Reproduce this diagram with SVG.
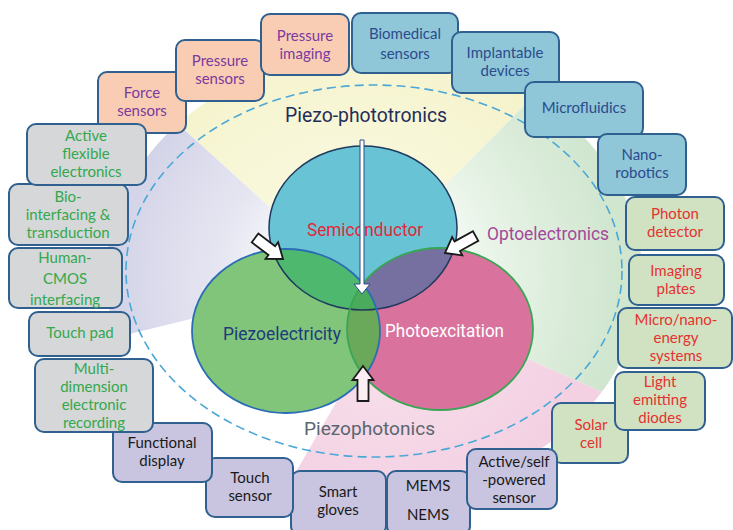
<svg xmlns="http://www.w3.org/2000/svg" width="733" height="530" viewBox="0 0 733 530">
<defs>
<style>
.box{stroke:#2f6090;stroke-width:2}
.peach{fill:#f9cdb3}.blue{fill:#8fc6d8}.green{fill:#d0e2c2}.lav{fill:#c9c4df}.gray{fill:#d5d7d9}
.t{font-family:Lato,"Liberation Sans",sans-serif;font-size:15px;text-anchor:middle}
.tp{fill:#7a3a9e}.tb{fill:#2b4c8c}.tg{fill:#34a84c}.tr{fill:#e5322f}.tk{fill:#1a1a1a}
.big{font-family:Roboto,"Liberation Sans",sans-serif;text-anchor:start}
.blk{fill:#ffffff;stroke:#1a1a1a;stroke-width:1.8;stroke-linejoin:miter}
</style>
<radialGradient id="gY" gradientUnits="userSpaceOnUse" cx="350" cy="280" r="260"><stop offset="0" stop-color="#fbfbe8"/><stop offset="1" stop-color="#f5f3cb"/></radialGradient>
<radialGradient id="gL" gradientUnits="userSpaceOnUse" cx="350" cy="280" r="240"><stop offset="0.2" stop-color="#ffffff"/><stop offset="0.55" stop-color="#e6e6f2"/><stop offset="1" stop-color="#d3d3e8"/></radialGradient>
<radialGradient id="gG" gradientUnits="userSpaceOnUse" cx="350" cy="280" r="270"><stop offset="0.25" stop-color="#ffffff"/><stop offset="0.6" stop-color="#e5f2e4"/><stop offset="1" stop-color="#d0e6cf"/></radialGradient>
<radialGradient id="gP" gradientUnits="userSpaceOnUse" cx="380" cy="300" r="220"><stop offset="0" stop-color="#f9e4ee"/><stop offset="1" stop-color="#f3d0e2"/></radialGradient>
<clipPath id="fan"><ellipse cx="374" cy="275" rx="268" ry="222"/></clipPath>
<clipPath id="cSemi"><ellipse cx="363" cy="228" rx="94" ry="82"/></clipPath>
<clipPath id="cPhoto"><ellipse cx="440" cy="329" rx="93" ry="81"/></clipPath>
<path id="blockArrow" d="M0,0 L-14,-10.5 L-14,-5.5 L-35,-5.5 L-35,5.5 L-14,5.5 L-14,10.5 Z"/>
</defs>

<rect width="733" height="530" fill="#ffffff"/>

<g id="background" clip-path="url(#fan)">
<polygon points="350,280 -69,-100 730,-100" fill="url(#gY)"/>
<polygon points="350,280 -400,-400 -400,464" fill="url(#gL)"/>
<polygon points="350,280 1000,-370 1000,569" fill="url(#gG)"/>
<polygon points="395,300 1000,569 1000,800 107,800" fill="url(#gP)"/>
</g>

<ellipse id="dashed-ring" cx="374" cy="271" rx="248" ry="186" fill="none" stroke="#4aa8d8" stroke-width="1.6" stroke-dasharray="9 5"/>

<g id="venn">
<g id="semiconductor">
<ellipse cx="363" cy="228" rx="94" ry="82" fill="#68c4d4"/>
</g>
<g id="piezoelectricity">
<ellipse cx="286" cy="331" rx="94" ry="82" fill="#80c57a"/>
</g>
<g id="photoexcitation">
<ellipse cx="440" cy="329" rx="93" ry="81" fill="#d9739e"/>
</g>
<g clip-path="url(#cSemi)"><ellipse cx="286" cy="331" rx="94" ry="82" fill="#4db86e"/><ellipse cx="440" cy="329" rx="93" ry="81" fill="#75709f"/></g>
<g clip-path="url(#cPhoto)"><ellipse cx="286" cy="331" rx="94" ry="82" fill="#6aa85a"/></g>
<g clip-path="url(#cSemi)"><g clip-path="url(#cPhoto)"><ellipse cx="286" cy="331" rx="94" ry="82" fill="#4aab5c"/></g></g>
<ellipse cx="363" cy="228" rx="94" ry="82" fill="none" stroke="#1f3a5e" stroke-width="1.5"/>
<ellipse cx="440" cy="329" rx="93" ry="81" fill="none" stroke="#3aa655" stroke-width="1.8"/>
<ellipse cx="286" cy="331" rx="94" ry="82" fill="none" stroke="#2a6db5" stroke-width="1.8"/>
<text class="big" x="307" y="236" font-size="18" textLength="116" lengthAdjust="spacingAndGlyphs" fill="#e0283c">Semiconductor</text>
<text class="big" x="223" y="340" font-size="18" textLength="118" lengthAdjust="spacingAndGlyphs" fill="#1f3a7a">Piezoelectricity</text>
<text class="big" x="385" y="337" font-size="18" textLength="119" lengthAdjust="spacingAndGlyphs" fill="#ffffff">Photoexcitation</text>
</g>

<text class="big" x="285" y="122" font-size="20" textLength="162" lengthAdjust="spacingAndGlyphs" fill="#1f2d5a">Piezo-phototronics</text>
<text class="big" x="487" y="240" font-size="18" textLength="122" lengthAdjust="spacingAndGlyphs" fill="#a4489a">Optoelectronics</text>
<text class="big" x="304" y="435" font-size="19" textLength="131" lengthAdjust="spacingAndGlyphs" fill="#5a6670">Piezophotonics</text>

<g id="connectors">
<path d="M360,140 L364,140 L364,284 L370,284 L362,294 L354,284 L360,284 Z" fill="#ffffff" stroke="#2b4c8a" stroke-width="1"/>
<use href="#blockArrow" class="blk" transform="translate(283,259) rotate(37)"/>
<use href="#blockArrow" class="blk" transform="translate(445,253) rotate(151)"/>
<use href="#blockArrow" class="blk" transform="translate(363,366) rotate(-90)" style="fill:#fdeef3"/>
</g>

<g id="force-sensors"><rect class="box peach" x="98" y="72" width="88" height="61" rx="9"/><text class="t tp" x="142" y="98">Force</text><text class="t tp" x="142" y="116">sensors</text></g>
<g id="pressure-sensors"><rect class="box peach" x="176" y="40" width="88" height="61" rx="9"/><text class="t tp" x="220" y="66">Pressure</text><text class="t tp" x="220" y="84">sensors</text></g>
<g id="pressure-imaging"><rect class="box peach" x="261" y="14" width="88" height="61" rx="9"/><text class="t tp" x="305" y="41">Pressure</text><text class="t tp" x="305" y="59">imaging</text></g>

<g id="biomedical-sensors"><rect class="box blue" x="352" y="13" width="106" height="60" rx="9"/><text class="t tb" x="405" y="39">Biomedical</text><text class="t tb" x="405" y="59">sensors</text></g>
<g id="implantable-devices"><rect class="box blue" x="452" y="32" width="107" height="61" rx="9"/><text class="t tb" x="505" y="58">Implantable</text><text class="t tb" x="505" y="76">devices</text></g>
<g id="microfluidics"><rect class="box blue" x="525" y="82" width="118" height="55" rx="9"/><text class="t tb" x="584" y="113">Microfluidics</text></g>
<g id="nano-robotics"><rect class="box blue" x="598" y="134" width="88" height="61" rx="9"/><text class="t tb" x="642" y="160">Nano-</text><text class="t tb" x="642" y="178">robotics</text></g>

<g id="photon-detector"><rect class="box green" x="626" y="197" width="98" height="53" rx="9"/><text class="t tr" x="675" y="219">Photon</text><text class="t tr" x="675" y="237">detector</text></g>
<g id="imaging-plates"><rect class="box green" x="629" y="255" width="95" height="50" rx="9"/><text class="t tr" x="676" y="276">Imaging</text><text class="t tr" x="676" y="294">plates</text></g>
<g id="micro-nano-energy"><rect class="box green" x="618" y="308" width="114" height="60" rx="9"/><text class="t tr" x="676" y="325">Micro/nano-</text><text class="t tr" x="676" y="343">energy</text><text class="t tr" x="676" y="361">systems</text></g>
<g id="solar-cell"><rect class="box green" x="552" y="403" width="76" height="60" rx="9"/><text class="t tr" x="591" y="430">Solar</text><text class="t tr" x="591" y="448">cell</text></g>
<g id="light-emitting-diodes"><rect class="box green" x="615" y="372" width="90" height="58" rx="9"/><text class="t tr" x="660" y="387">Light</text><text class="t tr" x="660" y="405">emitting</text><text class="t tr" x="660" y="423">diodes</text></g>

<g id="mems-nems"><rect class="box lav" x="387" y="471" width="83" height="64" rx="9"/><text class="t tk" x="428" y="491">MEMS</text><text class="t tk" x="428" y="520">NEMS</text></g>
<g id="active-self-powered-sensor"><rect class="box lav" x="467" y="449" width="90" height="60" rx="9"/><text class="t tk" x="514" y="467">Active/self</text><text class="t tk" x="514" y="485">-powered</text><text class="t tk" x="514" y="503">sensor</text></g>
<g id="smart-gloves"><rect class="box lav" x="291" y="471" width="95" height="64" rx="9"/><text class="t tk" x="338" y="497">Smart</text><text class="t tk" x="338" y="515">gloves</text></g>
<g id="touch-sensor"><rect class="box lav" x="206" y="458" width="87" height="59" rx="9"/><text class="t tk" x="250" y="483">Touch</text><text class="t tk" x="250" y="501">sensor</text></g>
<g id="functional-display"><rect class="box lav" x="113" y="423" width="99" height="59" rx="9"/><text class="t tk" x="162" y="448">Functional</text><text class="t tk" x="162" y="466">display</text></g>

<g id="multi-dimension-recording"><rect class="box gray" x="35" y="359" width="118" height="73" rx="9"/><text class="t tg" x="94" y="374">Multi-</text><text class="t tg" x="94" y="392">dimension</text><text class="t tg" x="94" y="410">electronic</text><text class="t tg" x="94" y="428">recording</text></g>
<g id="touch-pad"><rect class="box gray" x="29" y="312" width="101" height="44" rx="9"/><text class="t tg" x="80" y="338">Touch pad</text></g>
<g id="human-cmos-interfacing"><rect class="box gray" x="9" y="248" width="113" height="60" rx="9"/><text class="t tg" x="65" y="263">Human-</text><text class="t tg" x="65" y="284">CMOS</text><text class="t tg" x="65" y="305">interfacing</text></g>
<g id="bio-interfacing"><rect class="box gray" x="9" y="184" width="119" height="61" rx="9"/><text class="t tg" x="68" y="202">Bio-</text><text class="t tg" x="68" y="220">interfacing &amp;</text><text class="t tg" x="68" y="238">transduction</text></g>
<g id="active-flexible-electronics"><rect class="box gray" x="27" y="124" width="119" height="61" rx="9"/><text class="t tg" x="86" y="141">Active</text><text class="t tg" x="86" y="159">flexible</text><text class="t tg" x="86" y="177">electronics</text></g>
</svg>
